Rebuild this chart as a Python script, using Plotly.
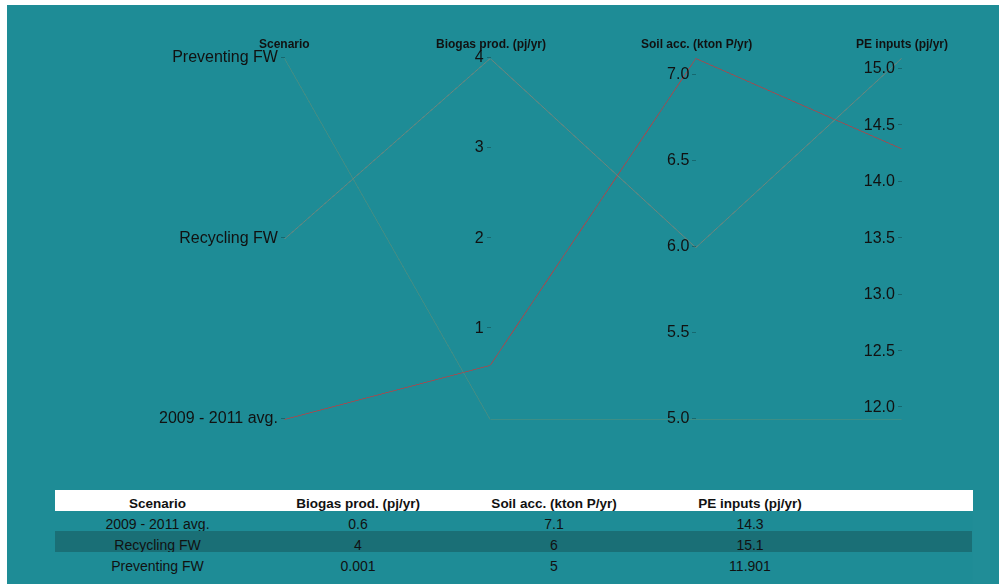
import plotly.graph_objects as go

scenarios = ["2009 - 2011 avg.", "Recycling FW", "Preventing FW"]
scenario_codes = [0, 1, 2]
biogas = [0.6, 4, 0.001]
soil = [7.1, 6, 5]
pe_inputs = [14.3, 15.1, 11.901]
dim_labels = ["Scenario", "Biogas prod. (pj/yr)", "Soil acc. (kton P/yr)", "PE inputs (pj/yr)"]
biogas_ticks = [1, 2, 3, 4]
soil_ticks = [5.0, 5.5, 6.0, 6.5, 7.0]
pe_ticks = [12.0, 12.5, 13.0, 13.5, 14.0, 14.5, 15.0]

BG = "#1e8c96"
DARK = "#1a6f76"
PC_X = [0.2802, 0.9022]
PC_Y = [0.2815, 0.9136]

fig = go.Figure()

fig.add_trace(go.Parcoords(
    domain=dict(x=PC_X, y=PC_Y),
    line=dict(color=scenario_codes,
              colorscale=[[0, "#e41f25"], [0.5, "#76897a"], [1, "#3d9580"]]),
    dimensions=[
        dict(label="", values=scenario_codes, tickvals=scenario_codes, ticktext=scenarios),
        dict(label="", values=biogas, tickvals=biogas_ticks),
        dict(label="", values=soil, tickvals=soil_ticks, tickformat=".1f"),
        dict(label="", values=pe_inputs, tickvals=pe_ticks, tickformat=".1f"),
    ],
    tickfont=dict(size=16, color="#111", family="Arial", shadow="none"),
    rangefont=dict(size=1, color="rgba(0,0,0,0)", shadow="none"),
))

n = len(dim_labels)
for i, lab in enumerate(dim_labels):
    fig.add_annotation(x=PC_X[0] + i * (PC_X[1] - PC_X[0]) / (n - 1), y=0.9326,
                       xref="paper", yref="paper", text=lab, showarrow=False,
                       xanchor="center", yanchor="middle",
                       font=dict(size=12, color="#111", family="Arial", weight="bold"))

fig.add_trace(go.Table(
    domain=dict(x=[0.0484, 0.9728], y=[0, 0.1623]),
    columnwidth=[205, 196, 196, 196, 124],
    header=dict(values=dim_labels + [""], fill_color="white",
                font=dict(size=13.5, color="#111", family="Arial", weight="bold"),
                line_color="white", height=20, align="center"),
    cells=dict(values=[scenarios, biogas, soil, pe_inputs, ["", "", ""]],
               fill_color=[[BG, DARK, BG]] * 5,
               font=dict(size=14, color="#111", family="Arial"),
               line=dict(color="rgba(0,0,0,0)", width=0), height=21, align="center"),
))

fig.update_layout(paper_bgcolor=BG, plot_bgcolor=BG, width=992, height=579,
                  margin=dict(l=0, r=0, t=0, b=0))

fig.write_html(
    "out.html",
    post_script=(
        "document.body.style.margin='5px 0 0 7px';document.body.style.overflow='hidden';"
        "var s=document.createElement('style');"
        "s.textContent='.parcoords .axis .domain{stroke-opacity:0 !important;}';"
        "document.head.appendChild(s);"
    ),
)
